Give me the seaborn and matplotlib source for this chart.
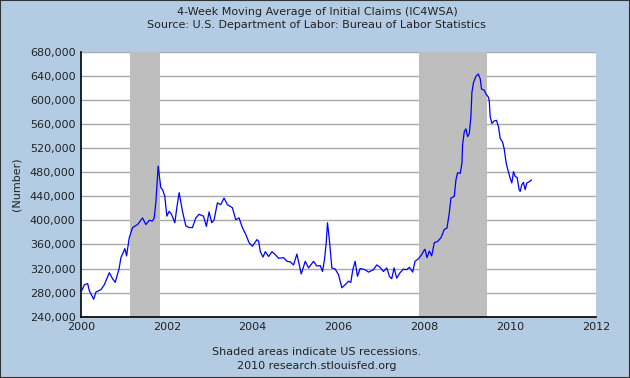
import matplotlib
matplotlib.use("Agg")
import matplotlib.pyplot as plt
import matplotlib.ticker as mticker
from matplotlib.patches import Rectangle
import pandas as pd
import seaborn as sns

# decimal year and 4-week moving average of initial claims
years = [
    2000.023, 2000.078, 2000.155, 2000.194, 2000.295, 2000.349, 2000.465, 2000.543,
    2000.659, 2000.736, 2000.798, 2000.891, 2000.930, 2001.023, 2001.062, 2001.124,
    2001.202, 2001.318, 2001.434, 2001.512, 2001.589, 2001.667, 2001.705, 2001.744,
    2001.798, 2001.860, 2001.899, 2001.953, 2002.000, 2002.054, 2002.109, 2002.186,
    2002.233, 2002.287, 2002.364, 2002.442, 2002.519, 2002.597, 2002.674, 2002.752,
    2002.853, 2002.922, 2002.984, 2003.047, 2003.101, 2003.178, 2003.256, 2003.333,
    2003.411, 2003.527, 2003.605, 2003.682, 2003.760, 2003.837, 2003.915, 2003.992,
    2004.101, 2004.140, 2004.178, 2004.240, 2004.295, 2004.372, 2004.450, 2004.527,
    2004.605, 2004.721, 2004.798, 2004.876, 2004.953, 2005.031, 2005.093, 2005.132,
    2005.225, 2005.302, 2005.419, 2005.496, 2005.574, 2005.628, 2005.674, 2005.713,
    2005.744, 2005.791, 2005.845, 2005.922, 2006.000, 2006.078, 2006.155, 2006.233,
    2006.287, 2006.333, 2006.388, 2006.442, 2006.504, 2006.620, 2006.698, 2006.814,
    2006.891, 2006.969, 2007.047, 2007.124, 2007.186, 2007.240, 2007.295, 2007.357,
    2007.434, 2007.512, 2007.589, 2007.651, 2007.729, 2007.783, 2007.860, 2007.938,
    2007.992, 2008.016, 2008.062, 2008.116, 2008.171, 2008.233, 2008.310, 2008.388,
    2008.465, 2008.527, 2008.581, 2008.620, 2008.698, 2008.736, 2008.775, 2008.837,
    2008.876, 2008.891, 2008.930, 2008.969, 2009.008, 2009.047, 2009.085, 2009.109,
    2009.147, 2009.202, 2009.256, 2009.302, 2009.333, 2009.395, 2009.434, 2009.488,
    2009.512, 2009.535, 2009.574, 2009.628, 2009.682, 2009.729, 2009.767, 2009.822,
    2009.860, 2009.907, 2009.953, 2010.000, 2010.039, 2010.078, 2010.116, 2010.163,
    2010.209, 2010.233, 2010.271, 2010.310, 2010.349, 2010.388, 2010.442, 2010.496,
]
claims = [
    284000, 293000, 295000, 283000, 269000, 281000, 285000, 293000,
    313000, 303000, 297000, 321000, 338000, 353000, 341000, 371000,
    388000, 393000, 404000, 393000, 400000, 399000, 404000, 429000,
    490000, 454000, 451000, 440000, 407000, 415000, 410000, 396000,
    421000, 446000, 415000, 391000, 388000, 388000, 404000, 410000,
    407000, 390000, 414000, 396000, 401000, 429000, 426000, 437000,
    426000, 421000, 401000, 404000, 388000, 377000, 363000, 357000,
    368000, 365000, 348000, 339000, 348000, 340000, 348000, 343000,
    337000, 338000, 332000, 331000, 326000, 344000, 324000, 311000,
    332000, 321000, 332000, 324000, 325000, 315000, 335000, 362000,
    396000, 365000, 321000, 319000, 310000, 288000, 293000, 299000,
    297000, 318000, 332000, 307000, 320000, 318000, 314000, 318000,
    326000, 322000, 315000, 321000, 307000, 303000, 321000, 304000,
    313000, 319000, 318000, 322000, 314000, 332000, 336000, 343000,
    350000, 352000, 338000, 349000, 341000, 363000, 365000, 371000,
    385000, 387000, 412000, 437000, 440000, 467000, 479000, 478000,
    495000, 525000, 547000, 552000, 539000, 544000, 572000, 613000,
    629000, 639000, 643000, 635000, 618000, 616000, 610000, 605000,
    599000, 572000, 561000, 565000, 566000, 555000, 536000, 530000,
    519000, 495000, 482000, 470000, 462000, 481000, 473000, 471000,
    451000, 448000, 459000, 463000, 451000, 462000, 464000, 467000,
]

# US recessions (start, end) in decimal years
recession_starts = [2001.14, 2007.87]
recession_ends = [2001.84, 2009.47]

y_ticks = list(range(240000, 680001, 40000))
x_ticks = list(range(2000, 2013, 2))

bg = "#B3CCE3"

df = pd.DataFrame({"year": years, "claims": claims})

sns.set_theme(style="white")
plt.rcParams["font.family"] = ["DejaVu Sans"]

fig = plt.figure(figsize=(6.3, 3.78), dpi=100, facecolor=bg)
ax = fig.add_axes([81 / 630, 1 - 316.7 / 378, 515 / 630, 265 / 378])
ax.set_facecolor("white")

for s, e in zip(recession_starts, recession_ends):
    ax.axvspan(s, e, color="#BEBEBE", lw=0, zorder=2)

sns.lineplot(data=df, x="year", y="claims", ax=ax, color="#0000FF",
             lw=0.9, zorder=3, estimator=None)

ax.set_xlim(2000, 2012)
ax.set_ylim(240000, 680000)
ax.set_xticks(x_ticks)
ax.set_yticks(y_ticks)
ax.yaxis.set_major_formatter(mticker.FuncFormatter(lambda v, p: f"{int(v):,}"))
ax.grid(axis="y", color="#AAAAAA", lw=1.0)
ax.yaxis.grid(True, zorder=1)
for gl in ax.get_ygridlines():
    gl.set_zorder(1)
ax.set_axisbelow(True)
ax.tick_params(axis="both", direction="in", length=4, width=1, color="black",
               labelsize=8, labelcolor="#222222", pad=4)
ax.tick_params(axis="y", length=0)

for side in ["top", "right"]:
    ax.spines[side].set_visible(False)
for side in ["left", "bottom"]:
    ax.spines[side].set_color("black")
    ax.spines[side].set_linewidth(1.2)
    ax.spines[side].set_zorder(4)

ax.set_xlabel("")
ax.set_ylabel("(Number)", fontsize=8, color="#222222", labelpad=6)

fig.text(0.503, 1 - 12 / 378, "4-Week Moving Average of Initial Claims (IC4WSA)",
         ha="center", va="center", fontsize=8, color="#222222")
fig.text(0.503, 1 - 25 / 378, "Source: U.S. Department of Labor: Bureau of Labor Statistics",
         ha="center", va="center", fontsize=8, color="#222222")
fig.text(0.503, 1 - 352 / 378, "Shaded areas indicate US recessions.",
         ha="center", va="center", fontsize=8, color="#222222")
fig.text(0.503, 1 - 366 / 378, "2010 research.stlouisfed.org",
         ha="center", va="center", fontsize=8, color="#222222")

fig.patches.append(Rectangle((0, 0), 1, 1, transform=fig.transFigure,
                             fill=False, edgecolor="#333333", lw=1.5))

fig.savefig("out.png", dpi=100, facecolor=bg)
